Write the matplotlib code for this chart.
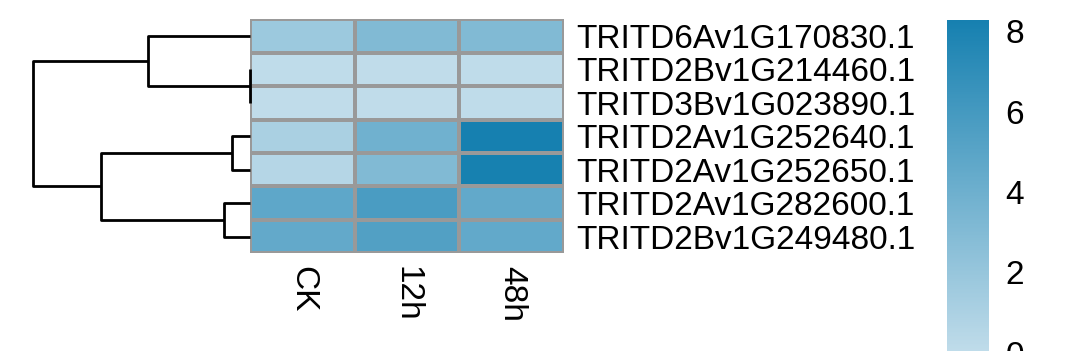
#!/usr/bin/env python3
# pheatmap-style heatmap with row dendrogram

import numpy as np
import matplotlib
matplotlib.use("Agg")
import matplotlib.pyplot as plt
from matplotlib.colors import LinearSegmentedColormap, Normalize

plt.rcParams["font.family"] = ["Liberation Sans", "DejaVu Sans"]

# -------------------- data --------------------
genes = [
    "TRITD6Av1G170830.1",
    "TRITD2Bv1G214460.1",
    "TRITD3Bv1G023890.1",
    "TRITD2Av1G252640.1",
    "TRITD2Av1G252650.1",
    "TRITD2Av1G282600.1",
    "TRITD2Bv1G249480.1",
]
samples = ["CK", "12h", "48h"]

ck  = [1.75, 0.05, 0.02, 1.07, 0.54, 4.77, 4.55]
h12 = [3.10, 0.02, 0.03, 3.90, 3.10, 5.75, 5.36]
h48 = [3.10, 0.05, 0.05, 8.28, 8.20, 4.58, 4.58]

# row clustering: (child_a, child_b, height); leaves 0..6, new clusters 7..
merges = [
    (1, 2, 0.00),
    (0, 7, 4.37),
    (3, 4, 0.76),
    (5, 6, 1.11),
    (9, 10, 6.37),
    (8, 11, 9.28),
]

cbar_ticks = [0, 2, 4, 6, 8]
colors = ["#c0dcea", "#1680b0"]
# --------------------------------------------------------------------

W, H = 1066, 351
FS = 24

def px_box(x0, y0, x1, y1):
    # pixel box (top-left origin) -> figure fraction rect
    return [x0 / W, (H - y1) / H, (x1 - x0) / W, (y1 - y0) / H]

def draw_dendro(ax, merges, n):
    pos = {i: i + 0.5 for i in range(n)}
    hgt = {i: 0.0 for i in range(n)}
    for k, (a, b, h) in enumerate(merges):
        ya, yb = pos[a], pos[b]
        xs = [hgt[a], h, h, hgt[b]]
        ys = [ya, ya, yb, yb]
        ax.plot(xs, ys, color="black", lw=2.0, solid_capstyle="butt",
                clip_on=False)
        pos[n + k] = (ya + yb) / 2
        hgt[n + k] = h
    ax.set_xlim(max(m[2] for m in merges), 0)
    ax.set_ylim(n, 0)
    ax.axis("off")

def main():
    data = np.array([ck, h12, h48]).T
    n_rows, n_cols = data.shape

    cmap = LinearSegmentedColormap.from_list("blues2", colors)
    norm = Normalize(vmin=0, vmax=data.max())

    fig = plt.figure(figsize=(W / 100, H / 100), dpi=100)

    ax = fig.add_axes(px_box(250, 19.3, 564, 253.3))
    ax.pcolormesh(data, cmap=cmap, norm=norm, edgecolors="#999999",
                  linewidth=1.5)
    ax.set_xlim(0, n_cols)
    ax.set_ylim(n_rows, 0)
    for s in ax.spines.values():
        s.set_visible(False)
    ax.set_xticks(np.arange(n_cols) + 0.5)
    ax.set_xticklabels(samples, rotation=-90, fontsize=FS)
    ax.set_yticks(np.arange(n_rows) + 0.5)
    ax.set_yticklabels(genes, fontsize=FS)
    ax.yaxis.tick_right()
    ax.tick_params(axis="x", length=0, pad=9)
    ax.tick_params(axis="y", length=0, pad=9)

    dax = fig.add_axes(px_box(32.5, 19.3, 250, 253.3))
    draw_dendro(dax, merges, n_rows)

    cax = fig.add_axes(px_box(947, 20, 989, 352.9))
    sm = plt.cm.ScalarMappable(cmap=cmap, norm=norm)
    cb = fig.colorbar(sm, cax=cax, ticks=cbar_ticks)
    cb.outline.set_visible(False)
    cax.tick_params(length=0, pad=12, labelsize=FS)

    fig.savefig("out.png", dpi=100)

if __name__ == "__main__":
    main()
